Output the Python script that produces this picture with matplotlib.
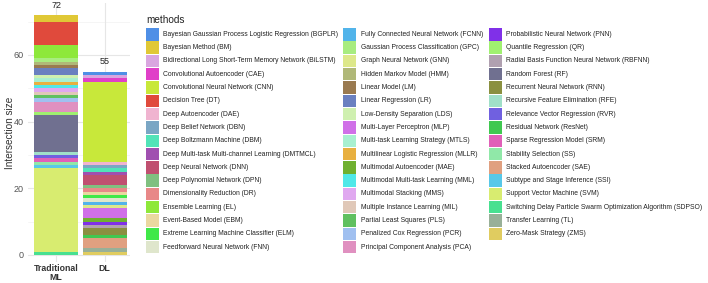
"""Stacked bar of method counts for traditional ML vs DL studies, with a 3-column method legend."""
import matplotlib.pyplot as plt
from matplotlib.patches import Rectangle

plt.rcParams['font.family'] = ['Liberation Sans', 'DejaVu Sans']

# legend order (alphabetical by full name, ggplot stacks first level on top)
methods = [
    "BGPLR", "BM", "BiLSTM", "CAE", "CNN", "DT", "DAE", "DBN", "DBM", "DMTMCL",
    "DNN", "DPN", "DR", "EL", "EBM", "ELM", "FNN",
    "FCNN", "GPC", "GNN", "HMM", "LM", "LR", "LDS", "MLP", "MTLS", "MLLR",
    "MAE", "MML", "MMS", "MIL", "PLS", "PCR", "PCA",
    "PNN", "QR", "RBFNN", "RF", "RNN", "RFE", "RVR", "ResNet", "SRM", "SS",
    "SAE", "SSI", "SVM", "SDPSO", "TL", "ZMS",
]
full_names = [
    "Bayesian Gaussian Process Logistic Regression", "Bayesian Method",
    "Bidirectional Long Short-Term Memory Network", "Convolutional Autoencoder",
    "Convolutional Neural Network", "Decision Tree", "Deep Autoencoder",
    "Deep Belief Network", "Deep Boltzmann Machine",
    "Deep Multi-task Multi-channel Learning", "Deep Neural Network",
    "Deep Polynomial Network", "Dimensionality Reduction", "Ensemble Learning",
    "Event-Based Model", "Extreme Learning Machine Classifier",
    "Feedforward Neural Network",
    "Fully Connected Neural Network", "Gaussian Process Classification",
    "Graph Neural Network", "Hidden Markov Model", "Linear Model",
    "Linear Regression", "Low-Density Separation", "Multi-Layer Perceptron",
    "Multi-task Learning Strategy", "Multilinear Logistic Regression",
    "Multimodal Autoencoder", "Multimodal Multi-task Learning",
    "Multimodal Stacking", "Multiple Instance Learning", "Partial Least Squares",
    "Penalized Cox Regression", "Principal Component Analysis",
    "Probabilistic Neural Network", "Quantile Regression",
    "Radial Basis Function Neural Network", "Random Forest",
    "Recurrent Neural Network", "Recursive Feature Elimination",
    "Relevance Vector Regression", "Residual Network",
    "Sparse Regression Model", "Stability Selection", "Stacked Autoencoder",
    "Subtype and Stage Inference", "Support Vector Machine",
    "Switching Delay Particle Swarm Optimization Algorithm",
    "Transfer Learning", "Zero-Mask Strategy",
]
colors = [
    "#4f8fe6", "#e0c836", "#d9a6e0", "#e040c8", "#c8e83a", "#e04a3c", "#f0b4d0",
    "#7aa6c4", "#52e3b8", "#a050b0", "#c05070", "#80c080", "#e88888", "#8ee83a",
    "#ead8a0", "#40e848", "#dfe6cc",
    "#52b4ea", "#a8ec80", "#dde88a", "#b0b878", "#9a7a50", "#6a80c0", "#cff0b0",
    "#d070e8", "#a8f0d0", "#e8b040", "#70b030", "#50e8e8", "#e0a8f0", "#e0c8b8",
    "#60c060", "#a0c0f0", "#e090c0",
    "#8030e8", "#a0f070", "#b0a0b0", "#707090", "#8a9040", "#a0e0c8", "#7060e0",
    "#40c850", "#e060b8", "#90e8a8", "#e0a080", "#58c8e8", "#d8ec70", "#48e090",
    "#98b098", "#e0cc60",
]

categories = ["Traditional\nML", "DL"]
trad_ml = {
    "BM": 2, "DT": 7, "EL": 4, "GPC": 1, "HMM": 1, "LM": 1, "LR": 2, "LDS": 1,
    "MTLS": 1, "MLLR": 1, "MML": 1, "MMS": 1, "MIL": 1, "PLS": 1, "PCR": 1,
    "PCA": 3, "QR": 1, "RF": 11, "RFE": 1, "RVR": 1, "SRM": 1, "SS": 1,
    "SSI": 1, "SVM": 25, "SDPSO": 1,
}
dl = {
    "BGPLR": 1, "BiLSTM": 1, "CAE": 1, "CNN": 24, "DAE": 1, "DBN": 1, "DBM": 1,
    "DMTMCL": 1, "DNN": 3, "DPN": 1, "DR": 1, "EBM": 1, "ELM": 1, "FNN": 1,
    "FCNN": 1, "GNN": 1, "MLP": 3, "MAE": 1, "PNN": 1, "RBFNN": 1, "RNN": 2,
    "ResNet": 1, "SAE": 3, "TL": 1, "ZMS": 1,
}
series = [trad_ml, dl]

W, H = 708, 283
fig = plt.figure(figsize=(W / 100, H / 100), dpi=100)

# ---- bar panel ----
ax = fig.add_axes([28 / W, 21 / H, 102 / W, 259 / H])
ax.set_xlim(0.42, 2.52)
ax.set_ylim(-2.1, 75.6)
for yv in [10, 30, 50, 70]:
    ax.axhline(yv, color="#f2f2f2", lw=0.5, zorder=0)
for yv in [0, 20, 40, 60]:
    ax.axhline(yv, color="#e6e6e6", lw=0.8, zorder=0)
for xv in [1, 2]:
    ax.axvline(xv, color="#e6e6e6", lw=0.8, zorder=0)

for i, counts in enumerate(series, start=1):
    bottom = 0
    # bottom of the stack is the last level
    for m, c in zip(reversed(methods), reversed(colors)):
        v = counts.get(m, 0)
        if v:
            ax.bar(i, v, bottom=bottom, width=0.9, color=c, linewidth=0, zorder=2)
            bottom += v
    ax.text(i, bottom + 1.6, f"{bottom}", ha="center", va="bottom",
            fontsize=6.5, color="#222222")

ax.set_xticks([1, 2])
ax.set_xticklabels(categories, fontsize=6.3, fontweight="bold", color="#333333",
                   linespacing=0.95)
ax.set_yticks([0, 20, 40, 60])
ax.tick_params(axis="y", labelsize=6.5, labelcolor="#555555", length=0, pad=3)
ax.tick_params(axis="x", length=0, pad=1.5)
ax.set_ylabel("Intersection size", fontsize=7.2, color="#333333")
ax.yaxis.set_label_coords(-0.125, 0.5)
for s in ax.spines.values():
    s.set_visible(False)

# ---- legend (pixel coordinates, y from top) ----
lg = fig.add_axes([0, 0, 1, 1])
lg.set_xlim(0, W)
lg.set_ylim(H, 0)
lg.axis("off")
lg.text(146, 20, "methods", fontsize=7.2, va="center", ha="left", color="#222222")

key_x = [146, 343, 489]
text_x = [163, 361, 506]
rows_per_col = 17
for k, (m, name, c) in enumerate(zip(methods, full_names, colors)):
    col, row = divmod(k, rows_per_col)
    yc = 34.3 + 13.3 * row
    lg.add_patch(Rectangle((key_x[col], yc - 6.2), 13, 12.4, facecolor=c,
                           edgecolor="none"))
    lg.text(text_x[col], yc, f"{name} ({m})", fontsize=4.9, va="center",
            ha="left", color="#222222")

fig.savefig("out.png", dpi=100)
